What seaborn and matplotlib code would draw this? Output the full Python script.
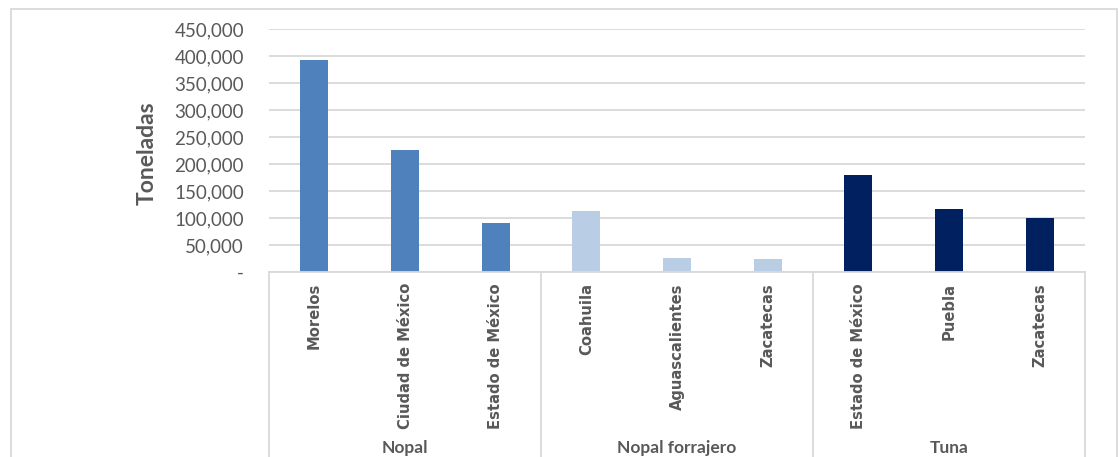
import matplotlib
matplotlib.use("Agg")
import matplotlib.pyplot as plt
import matplotlib.transforms as mtransforms
from matplotlib.lines import Line2D
from matplotlib.ticker import FuncFormatter
import seaborn as sns
import pandas as pd

# ---- data ----
groups = ["Nopal", "Nopal forrajero", "Tuna"]
states_nopal = ["Morelos", "Ciudad de México", "Estado de México"]
values_nopal = [392000, 226500, 90500]
states_forrajero = ["Coahuila", "Aguascalientes", "Zacatecas"]
values_forrajero = [113000, 26500, 24500]
states_tuna = ["Estado de México", "Puebla", "Zacatecas"]
values_tuna = [180000, 117000, 100500]
group_colors = ["#4F81BD", "#B9CDE5", "#002060"]
y_ticks = [0, 50000, 100000, 150000, 200000, 250000, 300000, 350000, 400000, 450000]
y_label = "Toneladas"

states = states_nopal + states_forrajero + states_tuna
values = values_nopal + values_forrajero + values_tuna
grp = [groups[0]] * 3 + [groups[1]] * 3 + [groups[2]] * 3
keys = [f"{g}|{s}" for g, s in zip(grp, states)]
df = pd.DataFrame({"key": keys, "state": states, "value": values, "group": grp})

sns.set_theme(style="white")
plt.rcParams["font.family"] = ["Lato", "DejaVu Sans"]
text_color = "#595959"
grid_color = "#D9D9D9"

W, H = 1118, 457
fig = plt.figure(figsize=(W / 100, H / 100), dpi=100)
ax_left, ax_right, ax_top, ax_bottom = 269, 1085, 29, 272
ax = fig.add_axes([ax_left / W, 1 - ax_bottom / H, (ax_right - ax_left) / W, (ax_bottom - ax_top) / H])

sns.barplot(data=df, x="key", y="value", hue="group", order=keys, hue_order=groups,
            palette=group_colors, dodge=False, width=0.31, legend=False, ax=ax,
            saturation=1, linewidth=0)

ax.set_xlim(-0.5, len(keys) - 0.5)
ax.set_ylim(0, 450000)
ax.set_yticks(y_ticks)
ax.yaxis.set_major_formatter(FuncFormatter(lambda v, p: "-" if v == 0 else f"{int(v):,}"))
ax.grid(axis="y", color=grid_color, linewidth=1.3)
ax.set_axisbelow(True)
for side in ["left", "right", "top"]:
    ax.spines[side].set_visible(False)
ax.spines["bottom"].set_color(grid_color)
ax.spines["bottom"].set_linewidth(1.3)

ax.tick_params(axis="y", length=0, pad=18, labelsize=13.5, labelcolor=text_color)
ax.tick_params(axis="x", length=0, pad=8, labelcolor=text_color)
ax.set_xticks(range(len(keys)))
ax.set_xticklabels(states, rotation=90)
for lbl in ax.get_xticklabels():
    lbl.set_fontfamily("DejaVu Sans")
    lbl.set_fontweight("bold")
    lbl.set_fontsize(10.6)
    lbl.set_color(text_color)
ax.set_xlabel("")
ax.set_ylabel(y_label, fontsize=16.5, fontweight="bold", color=text_color)
ax.yaxis.set_label_coords(-0.136, 0.49)

# group separators and labels
trans = mtransforms.blended_transform_factory(ax.transData, ax.transAxes)
bottom_ax = -(H - ax_bottom) / (ax_bottom - ax_top)
for b in [-0.5, 2.5, 5.5, 8.5]:
    ax.add_line(Line2D([b, b], [0, bottom_ax - 0.05], transform=trans, color=grid_color,
                       linewidth=1.3, clip_on=False))
label_y = -(448 - ax_bottom) / (ax_bottom - ax_top)
for i, g in enumerate(groups):
    ax.text(3 * i + 1, label_y, g, transform=trans, ha="center", va="center",
            fontsize=12.5, fontweight="bold", color=text_color)

# outer chart border
bc = "#D9D9D9"
fig.add_artist(Line2D([10.5 / W, 1116.5 / W], [1 - 8.5 / H, 1 - 8.5 / H], transform=fig.transFigure, color=bc, linewidth=1.3))
fig.add_artist(Line2D([10.5 / W, 10.5 / W], [0, 1 - 8.5 / H], transform=fig.transFigure, color=bc, linewidth=1.3))
fig.add_artist(Line2D([1116.5 / W, 1116.5 / W], [0, 1 - 8.5 / H], transform=fig.transFigure, color=bc, linewidth=1.3))

fig.savefig("out.png", dpi=100)
